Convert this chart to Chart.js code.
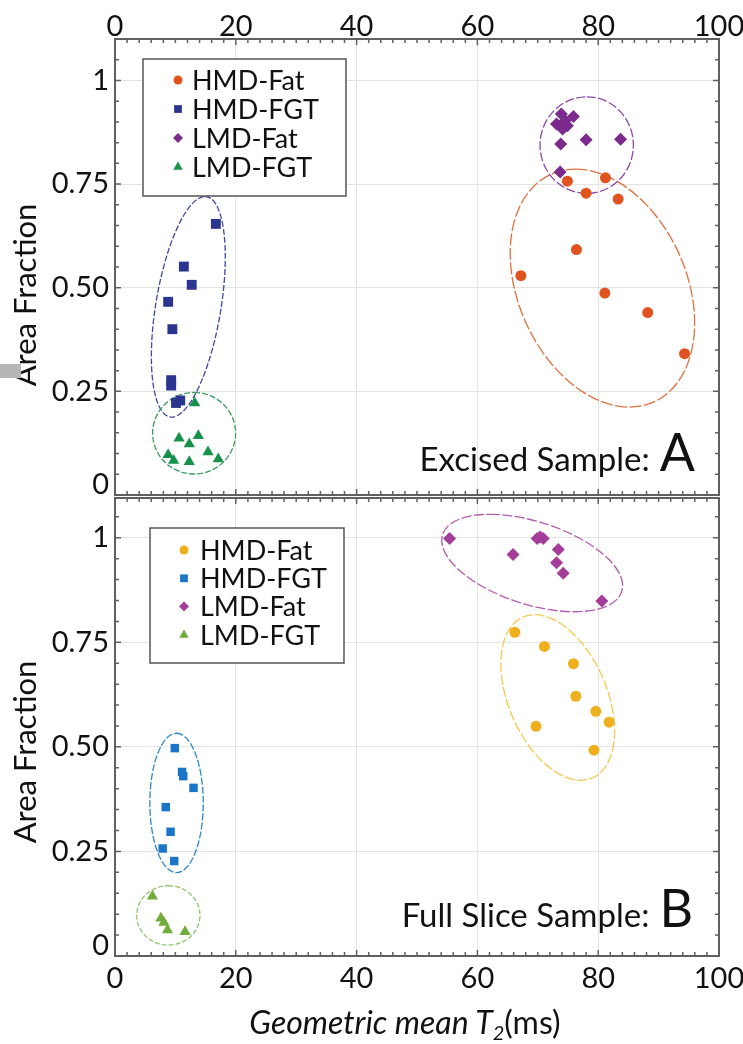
<!DOCTYPE html>
<html>
<head>
<meta charset="utf-8">
<script src="https://cdn.jsdelivr.net/npm/chart.js@4.4.1/dist/chart.umd.min.js"></script>
<style>
  html, body { margin: 0; padding: 0; background: #fff; }
  #wrap { position: relative; width: 743px; height: 1044px; overflow: hidden; font-family: Lato, "Open Sans", sans-serif; }
  #topChart { position: absolute; left: 0; top: 0; }
  #bottomChart { position: absolute; left: 0; top: 480px; }
  #xTitle { position: absolute; left: 205px; width: 400px; top: 1004px; text-align: center;
            font-size: 32px; line-height: 36px; color: #111; }
  #xTitle sub { font-size: 20px; vertical-align: -6px; line-height: 0; }
  #mark { position: absolute; left: 0; top: 364px; width: 21px; height: 14px; background: #b5b5b5; }
</style>
</head>
<body>
<div id="wrap">
  <canvas id="topChart" width="743" height="502"></canvas>
  <canvas id="bottomChart" width="743" height="564"></canvas>
  <div id="mark"></div>
  <div id="xTitle"><i>Geometric mean T<sub>2</sub></i>(ms)</div>
</div>
<script>
// ── AXES ──
const xTicks = [0, 20, 40, 60, 80, 100];
const yTicks = [0, 0.25, 0.5, 0.75, 1];
const seriesLabels = ['HMD-Fat', 'HMD-FGT', 'LMD-Fat', 'LMD-FGT'];

// ── EXCISED SAMPLE (A) ──  T2 in ms, area fraction
const hmdFatT2A   = [74.9, 81.2, 78.0, 83.3, 76.4, 67.2, 81.1, 88.2, 94.3];
const hmdFatAreaA = [0.757, 0.765, 0.728, 0.714, 0.592, 0.529, 0.487, 0.440, 0.341];
const hmdFgtT2A   = [16.7, 11.4, 12.7, 8.8, 9.5, 9.3, 9.3, 10.1, 10.8];
const hmdFgtAreaA = [0.654, 0.551, 0.507, 0.466, 0.400, 0.277, 0.264, 0.222, 0.228];
const lmdFatT2A   = [73.9, 75.9, 73.1, 74.9, 74.1, 74.5, 73.8, 78.0, 83.7, 73.7];
const lmdFatAreaA = [0.919, 0.913, 0.895, 0.891, 0.883, 0.903, 0.847, 0.857, 0.858, 0.779];
const lmdFgtT2A   = [13.2, 10.6, 13.8, 12.3, 8.8, 9.7, 12.3, 15.4, 17.1];
const lmdFgtAreaA = [0.222, 0.137, 0.143, 0.123, 0.097, 0.083, 0.080, 0.104, 0.087];

// cluster rings: [centre T2, centre area, top-point dT2, top-point dArea, half-chord dT2, half-chord dArea]
const hmdFatRingA = [80.7, 0.499, -4.47, 0.287, 14.6, 0];
const hmdFgtRingA = [12.14, 0.454, 2.76, 0.266, 5.46, 0];
const lmdFatRingA = [78.1, 0.844, 0, 0.1166, 7.73, 0];
const lmdFgtRingA = [13.1, 0.149, 0, 0.0984, 6.87, 0];

// ── FULL SLICE SAMPLE (B) ──
const hmdFatT2B   = [66.2, 71.1, 75.9, 76.3, 79.6, 81.8, 69.7, 79.3];
const hmdFatAreaB = [0.774, 0.740, 0.699, 0.621, 0.585, 0.559, 0.549, 0.492];
const hmdFgtT2B   = [9.9, 11.1, 11.3, 13.0, 8.4, 9.2, 7.9, 9.8];
const hmdFgtAreaB = [0.497, 0.440, 0.430, 0.402, 0.356, 0.297, 0.257, 0.227];
const lmdFatT2B   = [55.4, 65.9, 69.9, 70.9, 70.4, 73.4, 73.1, 74.2, 80.6];
const lmdFatAreaB = [0.998, 0.960, 0.998, 0.998, 1.002, 0.972, 0.940, 0.915, 0.849];
const lmdFgtT2B   = [6.2, 7.6, 8.1, 8.7, 11.6];
const lmdFgtAreaB = [0.143, 0.090, 0.080, 0.062, 0.058];

const hmdFatRingB = [73.3, 0.618, -3.81, 0.198, 8.61, 0];
const hmdFgtRingB = [10.19, 0.366, 0, 0.1666, 4.42, 0];
const lmdFatRingB = [69.07, 0.9395, -6.99, 0.1164, 13.25, 0];
const lmdFgtRingB = [8.83, 0.097, 0, 0.071, 5.24, 0];

const FONT = 'Lato, "Open Sans", sans-serif';
const FRAME = '#606060';

function series(label, t2, area, ring, style) {
  return {
    label: label,
    data: t2.map((v, i) => ({ x: v, y: area[i] })),
    ring: ring,
    ringColor: style.ring,
    ringDash: style.dash,
    pointStyle: style.shape,
    pointRadius: style.r,
    pointHoverRadius: style.r,
    pointBackgroundColor: style.color,
    backgroundColor: style.color,
    pointBorderWidth: 0,
    legendRadius: style.lr,
    showLine: false
  };
}

// dashed ellipses round each cluster, placed through the chart scales
const ringPlugin = {
  id: 'rings',
  beforeDatasetsDraw(chart) {
    const ctx = chart.ctx, xs = chart.scales.x, ys = chart.scales.y;
    chart.data.datasets.forEach(ds => {
      if (!ds.ring) return;
      const [cx, cy, ux, uy, vx, vy] = ds.ring;
      const px = xs.getPixelForValue(cx), py = ys.getPixelForValue(cy);
      const a = xs.getPixelForValue(cx + ux) - px, b = ys.getPixelForValue(cy + uy) - py;
      const c = xs.getPixelForValue(cx + vx) - px, d = ys.getPixelForValue(cy + vy) - py;
      ctx.save();
      ctx.beginPath();
      ctx.save();
      ctx.transform(a, b, c, d, px, py);
      ctx.arc(0, 0, 1, 0, Math.PI * 2);
      ctx.restore();
      ctx.setLineDash(ds.ringDash);
      ctx.lineWidth = 1.3;
      ctx.strokeStyle = ds.ringColor;
      ctx.stroke();
      ctx.restore();
    });
  }
};

// boxed legend inside the plot
const boxLegendPlugin = {
  id: 'boxLegend',
  afterDatasetsDraw(chart, args, o) {
    const ctx = chart.ctx, area = chart.chartArea;
    const left = area.left + o.left, top = area.top + o.top;
    ctx.save();
    ctx.fillStyle = '#fff';
    ctx.fillRect(left, top, o.width, o.height);
    ctx.strokeStyle = '#555';
    ctx.lineWidth = 1.5;
    ctx.strokeRect(left, top, o.width, o.height);
    ctx.font = o.fontSize + 'px ' + FONT;
    ctx.textBaseline = 'middle';
    chart.data.datasets.forEach((ds, i) => {
      const y = area.top + o.firstRow + i * o.rowGap;
      ctx.fillStyle = ds.pointBackgroundColor;
      Chart.helpers.drawPoint(ctx, { pointStyle: ds.pointStyle, radius: ds.legendRadius, rotation: 0, borderWidth: 0 },
        left + o.markerX, y);
      ctx.fillStyle = '#111';
      ctx.fillText(ds.label, left + o.textX, y + 1);
    });
    ctx.restore();
  }
};

// frame, inward minor ticks, y title and sample caption
const framePlugin = {
  id: 'frame',
  afterDraw(chart, args, o) {
    const ctx = chart.ctx, a = chart.chartArea, xs = chart.scales.x, ys = chart.scales.y;
    ctx.save();
    ctx.strokeStyle = FRAME;
    ctx.lineWidth = 1.5;
    ctx.beginPath();
    for (let v = 0; v <= 100; v += 2) {
      const p = xs.getPixelForValue(v), len = v % 20 === 0 ? 6 : 4;
      ctx.moveTo(p, a.top); ctx.lineTo(p, a.top + len);
      ctx.moveTo(p, a.bottom); ctx.lineTo(p, a.bottom - len);
    }
    for (let k = 0; k * 0.05 <= ys.max + 1e-9; k++) {
      const p = ys.getPixelForValue(k * 0.05), len = k % 5 === 0 ? 6 : 4;
      ctx.moveTo(a.left, p); ctx.lineTo(a.left + len, p);
      ctx.moveTo(a.right, p); ctx.lineTo(a.right - len, p);
    }
    ctx.stroke();
    ctx.lineWidth = 2;
    ctx.strokeRect(a.left, a.top, a.right - a.left, a.bottom - a.top);

    // y axis title
    ctx.fillStyle = '#111';
    ctx.font = o.titleSize + 'px ' + FONT;
    ctx.textAlign = 'center';
    ctx.textBaseline = 'middle';
    ctx.translate(o.titleX, (a.top + a.bottom) / 2 + o.titleDy);
    ctx.rotate(-Math.PI / 2);
    ctx.fillText(o.title, 0, 0);
    ctx.setTransform(1, 0, 0, 1, 0, 0);

    // caption with large panel letter
    ctx.textAlign = 'right';
    ctx.textBaseline = 'alphabetic';
    const right = a.right - o.capRight, base = a.bottom - o.capBottom;
    ctx.font = o.letterSize + 'px ' + FONT;
    const lw = ctx.measureText(o.letter).width;
    ctx.fillText(o.letter, right, base);
    ctx.font = o.capSize + 'px ' + FONT;
    ctx.fillText(o.caption, right - lw - 10, base);
    ctx.restore();
  }
};

function yTickFont(c) {
  return (c.tick && c.tick.value === 0)
    ? { family: FONT, size: 29, lineHeight: 0.7 }
    : { family: FONT, size: 29, lineHeight: 1.2 };
}

function makePanel(id, datasets, cfg) {
  return new Chart(document.getElementById(id), {
    type: 'scatter',
    data: { datasets: datasets },
    plugins: [ringPlugin, boxLegendPlugin, framePlugin],
    options: {
      responsive: false,
      animation: false,
      layout: { padding: cfg.padding },
      scales: {
        x: {
          type: 'linear',
          position: cfg.xPos,
          min: 0, max: 100,
          afterBuildTicks: s => { s.ticks = xTicks.map(v => ({ value: v })); },
          afterFit: s => { s.height = cfg.xHeight; s.paddingLeft = 0; s.paddingRight = 0; },
          grid: { color: '#e4e4e4', lineWidth: 1, drawTicks: false },
          border: { display: false },
          ticks: { color: '#111', padding: cfg.xPad, maxRotation: 0,
                   font: { family: FONT, size: 29, lineHeight: cfg.xLine } }
        },
        y: {
          type: 'linear',
          min: 0, max: cfg.yMax,
          afterBuildTicks: s => { s.ticks = yTicks.map(v => ({ value: v })); },
          afterFit: s => { s.width = 115; s.paddingTop = 0; s.paddingBottom = 0; },
          grid: { color: '#e4e4e4', lineWidth: 1, drawTicks: false },
          border: { display: false },
          ticks: {
            color: '#111', padding: 6, font: yTickFont,
            callback: v => v === 0 ? ['0', ''] : (v === 1 ? '1' : v.toFixed(2))
          }
        }
      },
      plugins: {
        legend: { display: false },
        tooltip: { enabled: false },
        boxLegend: cfg.legend,
        frame: cfg.frame
      }
    }
  });
}

const styleA = [
  { color: '#e0531f', ring: '#e2703f', shape: 'circle', r: 5.5, lr: 4.5, dash: [12, 2.5] },
  { color: '#2b3590', ring: '#3e4aa0', shape: 'rect', r: 7, lr: 5.5, dash: [6, 2] },
  { color: '#7b2a8e', ring: '#8c48a6', shape: 'rectRot', r: 6.5, lr: 5, dash: [9, 2.5] },
  { color: '#17924a', ring: '#3c9d5c', shape: 'triangle', r: 6.5, lr: 5.5, dash: [6, 2] }
];
const styleB = [
  { color: '#efb01f', ring: '#f7c84e', shape: 'circle', r: 5.5, lr: 4.5, dash: [10, 2.5] },
  { color: '#1b75c6', ring: '#2f88c4', shape: 'rect', r: 6, lr: 5.5, dash: [7, 2] },
  { color: '#a33d99', ring: '#b259ad', shape: 'rectRot', r: 6.5, lr: 5, dash: [10, 2.5] },
  { color: '#72ad3c', ring: '#92c46c', shape: 'triangle', r: 6.5, lr: 5.5, dash: [5, 2] }
];

makePanel('topChart', [
  series(seriesLabels[0], hmdFatT2A, hmdFatAreaA, hmdFatRingA, styleA[0]),
  series(seriesLabels[1], hmdFgtT2A, hmdFgtAreaA, hmdFgtRingA, styleA[1]),
  series(seriesLabels[2], lmdFatT2A, lmdFatAreaA, lmdFatRingA, styleA[2]),
  series(seriesLabels[3], lmdFgtT2A, lmdFgtAreaA, lmdFgtRingA, styleA[3])
], {
  padding: { left: 0, right: 24, top: 0, bottom: 4 },
  xPos: 'top', xHeight: 39, xPad: 0, xLine: 0.85, yMax: 1.1,
  legend: { left: 28, top: 20, width: 203, height: 137, firstRow: 41, rowGap: 29,
            markerX: 35, textX: 49, fontSize: 27 },
  frame: { title: 'Area Fraction', titleSize: 31, titleX: 26, titleDy: 28,
           caption: 'Excised Sample:', capSize: 33, letter: 'A', letterSize: 52,
           capRight: 24, capBottom: 24 }
});

makePanel('bottomChart', [
  series(seriesLabels[0], hmdFatT2B, hmdFatAreaB, hmdFatRingB, styleB[0]),
  series(seriesLabels[1], hmdFgtT2B, hmdFgtAreaB, hmdFgtRingB, styleB[1]),
  series(seriesLabels[2], lmdFatT2B, lmdFatAreaB, lmdFatRingB, styleB[2]),
  series(seriesLabels[3], lmdFgtT2B, lmdFgtAreaB, lmdFgtRingB, styleB[3])
], {
  padding: { left: 0, right: 24, top: 18, bottom: 0 },
  xPos: 'bottom', xHeight: 88, xPad: 5, xLine: 1.2, yMax: 1.095,
  legend: { left: 35, top: 30, width: 194, height: 135, firstRow: 52, rowGap: 28.3,
            markerX: 34, textX: 50, fontSize: 27 },
  frame: { title: 'Area Fraction', titleSize: 31, titleX: 26, titleDy: 25,
           caption: 'Full Slice Sample:', capSize: 33, letter: 'B', letterSize: 52,
           capRight: 26, capBottom: 29 }
});
</script>
</body>
</html>
